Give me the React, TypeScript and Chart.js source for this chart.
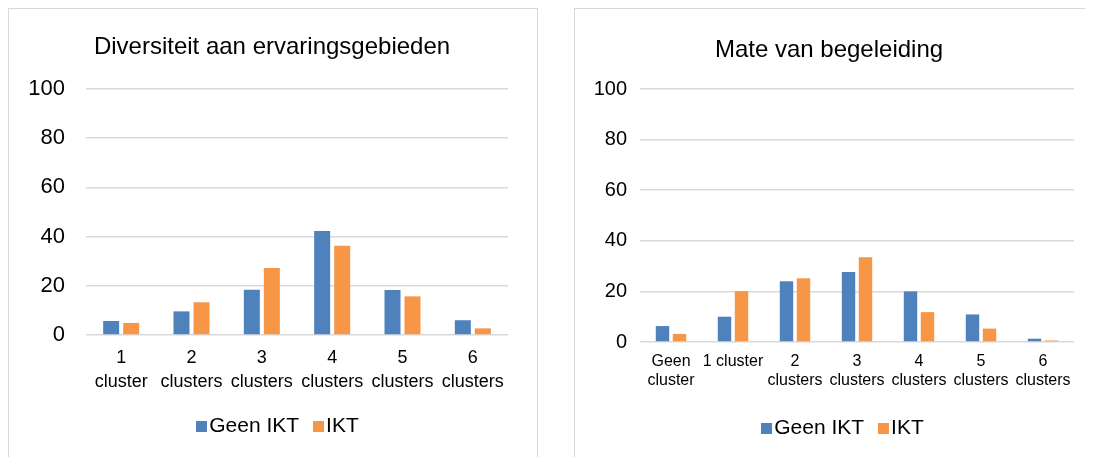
import React, { useEffect, useRef } from "react";
import { Chart, registerables } from "chart.js";

Chart.register(...registerables);

const FONT = "'Liberation Sans', Arial, sans-serif";

const seriesNames = ["Geen IKT", "IKT"];
const seriesColors = ["#4F81BD", "#F79646"];

const diversityTitle = "Diversiteit aan ervaringsgebieden";
const diversityLabels = [
  ["1", "cluster"],
  ["2", "clusters"],
  ["3", "clusters"],
  ["4", "clusters"],
  ["5", "clusters"],
  ["6", "clusters"],
];
const diversityGeenIKT = [5.7, 9.6, 18.4, 42.3, 18.3, 6.0];
const diversityIKT = [4.9, 13.3, 27.2, 36.3, 15.7, 2.7];

const guidanceTitle = "Mate van begeleiding";
const guidanceLabels = [
  ["Geen", "cluster"],
  ["1 cluster"],
  ["2", "clusters"],
  ["3", "clusters"],
  ["4", "clusters"],
  ["5", "clusters"],
  ["6", "clusters"],
];
const guidanceGeenIKT = [6.3, 10.0, 24.0, 27.7, 20.0, 10.9, 1.3];
const guidanceIKT = [3.2, 20.1, 25.2, 33.5, 11.8, 5.3, 0.6];

const yMin = 0;
const yMax = 100;
const yStep = 20;

const boxLegend = {
  id: "boxLegend",
  afterDraw(chart: any, _args: any, opts: any) {
    const ctx = chart.ctx;
    ctx.save();
    ctx.font = `${opts.size}px ${FONT}`;
    ctx.textBaseline = "middle";
    ctx.textAlign = "left";
    const items = chart.data.datasets.map((d: any) => ({ label: d.label, color: d.backgroundColor }));
    const widths = items.map((it: any) => opts.box + opts.gap + ctx.measureText(it.label).width);
    const total = widths.reduce((a: number, b: number) => a + b, 0) + opts.spacing * (items.length - 1);
    let x = opts.cx - total / 2;
    items.forEach((it: any, i: number) => {
      ctx.fillStyle = it.color;
      ctx.fillRect(Math.round(x), Math.round(opts.cy - opts.box / 2), opts.box, opts.box);
      ctx.fillStyle = "#000";
      ctx.fillText(it.label, x + opts.box + opts.gap, opts.cy);
      x += widths[i] + opts.spacing;
    });
    ctx.restore();
  },
};

const centeredTitle = {
  id: "centeredTitle",
  afterDraw(chart: any, _args: any, opts: any) {
    const ctx = chart.ctx;
    ctx.save();
    ctx.font = `${opts.size}px ${FONT}`;
    ctx.textBaseline = "middle";
    ctx.textAlign = "center";
    ctx.fillStyle = "#000";
    ctx.fillText(opts.text, opts.cx, opts.cy);
    ctx.restore();
  },
};

type Cfg = {
  title: any;
  labels: string[][];
  a: number[];
  b: number[];
  width: number;
  height: number;
  padding: { left: number; right: number; top: number; bottom: number };
  yWidth: number;
  yTickSize: number;
  yTickPad: number;
  xTickSize: number;
  xLineHeight: number;
  xTickPad: number;
  catPct: number;
  barPct: number;
  legend: any;
};

function BarChart({ cfg }: { cfg: Cfg }) {
  const ref = useRef<HTMLCanvasElement | null>(null);
  useEffect(() => {
    if (!ref.current) return;
    const chart = new Chart(ref.current, {
      type: "bar",
      data: {
        labels: cfg.labels,
        datasets: [
          {
            label: seriesNames[0],
            data: cfg.a,
            backgroundColor: seriesColors[0],
            borderWidth: 0,
            categoryPercentage: cfg.catPct,
            barPercentage: cfg.barPct,
          },
          {
            label: seriesNames[1],
            data: cfg.b,
            backgroundColor: seriesColors[1],
            borderWidth: 0,
            categoryPercentage: cfg.catPct,
            barPercentage: cfg.barPct,
          },
        ],
      },
      options: {
        responsive: false,
        animation: false,
        devicePixelRatio: 1,
        layout: { padding: cfg.padding },
        plugins: {
          legend: { display: false },
          tooltip: { enabled: false },
          title: { display: false },
          boxLegend: cfg.legend,
          centeredTitle: cfg.title,
        } as any,
        scales: {
          x: {
            grid: { display: false, drawTicks: false, tickLength: 0 },
            border: { display: false },
            ticks: {
              color: "#000",
              font: { family: FONT, size: cfg.xTickSize, lineHeight: cfg.xLineHeight },
              padding: cfg.xTickPad,
              maxRotation: 0,
              autoSkip: false,
            },
            afterFit: (s: any) => {
              s.height = 60;
            },
          },
          y: {
            min: yMin,
            max: yMax,
            grid: { color: "#D9D9D9", lineWidth: 1.5, drawTicks: false, tickLength: 0 },
            border: { display: false },
            ticks: {
              stepSize: yStep,
              color: "#000",
              font: { family: FONT, size: cfg.yTickSize },
              padding: cfg.yTickPad,
            },
            afterFit: (s: any) => {
              s.width = cfg.yWidth;
            },
          },
        },
      },
      plugins: [boxLegend, centeredTitle],
    } as any);
    return () => chart.destroy();
  }, [cfg]);
  return <canvas ref={ref} width={cfg.width} height={cfg.height} style={{ display: "block" }} />;
}

const leftCfg: Cfg = {
  title: { text: diversityTitle, cx: 263, cy: 38.5, size: 24 },
  labels: diversityLabels,
  a: diversityGeenIKT,
  b: diversityIKT,
  width: 528,
  height: 448,
  padding: { left: 0, right: 29, top: 80, bottom: 62 },
  yWidth: 77,
  yTickSize: 22,
  yTickPad: 21,
  xTickSize: 18,
  xLineHeight: 1.33,
  xTickPad: 11,
  catPct: 0.569,
  barPct: 0.8,
  legend: { cx: 268.5, cy: 417, size: 21, box: 11, gap: 2, spacing: 14 },
};

const rightCfg: Cfg = {
  title: { text: guidanceTitle, cx: 254, cy: 41, size: 24 },
  labels: guidanceLabels,
  a: guidanceGeenIKT,
  b: guidanceIKT,
  width: 518,
  height: 448,
  padding: { left: 0, right: 19, top: 80, bottom: 55 },
  yWidth: 65,
  yTickSize: 20,
  yTickPad: 13,
  xTickSize: 16,
  xLineHeight: 1.17,
  xTickPad: 10.5,
  catPct: 0.548,
  barPct: 0.79,
  legend: { cx: 267.5, cy: 419, size: 21, box: 11, gap: 2, spacing: 14 },
};

export default function App() {
  return (
    <div style={{ position: "relative", width: 1085, height: 449, overflow: "hidden", background: "#fff" }}>
      <div
        style={{
          position: "absolute",
          left: 0,
          top: 0,
          width: 530,
          height: 470,
          border: "1px solid #D9D9D9",
          boxSizing: "border-box",
        }}
      >
        <BarChart cfg={leftCfg} />
      </div>
      <div
        style={{
          position: "absolute",
          left: 566,
          top: 0,
          width: 560,
          height: 470,
          border: "1px solid #D9D9D9",
          boxSizing: "border-box",
        }}
      >
        <BarChart cfg={rightCfg} />
      </div>
    </div>
  );
}
